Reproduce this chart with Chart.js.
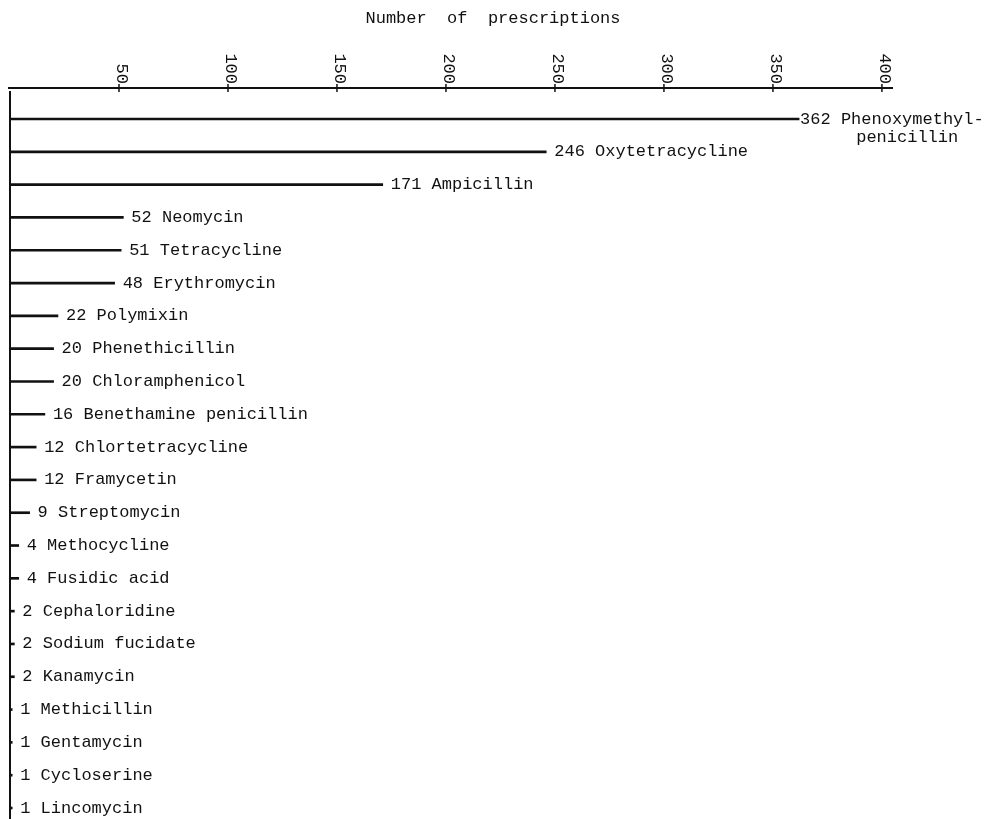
<!DOCTYPE html>
<html>
<head>
<meta charset="utf-8">
<script src="https://cdn.jsdelivr.net/npm/chart.js@4"></script>
<style>
  html, body { margin: 0; padding: 0; background: #fff; }
  canvas { display: block; }
</style>
</head>
<body>
<canvas id="grafic" width="986" height="819"></canvas>
<script>
const titol = 'Number  of  prescriptions';
const antibiotics = [
  'Phenoxymethyl-\npenicillin', 'Oxytetracycline', 'Ampicillin', 'Neomycin',
  'Tetracycline', 'Erythromycin', 'Polymixin', 'Phenethicillin',
  'Chloramphenicol', 'Benethamine penicillin', 'Chlortetracycline', 'Framycetin',
  'Streptomycin', 'Methocycline', 'Fusidic acid', 'Cephaloridine',
  'Sodium fucidate', 'Kanamycin', 'Methicillin', 'Gentamycin',
  'Cycloserine', 'Lincomycin'
];
const receptes = [362, 246, 171, 52, 51, 48, 22, 20, 20, 16, 12, 12, 9, 4, 4, 2, 2, 2, 1, 1, 1, 1];
const ticksX = [50, 100, 150, 200, 250, 300, 350, 400];

const FONT = '17px "Liberation Mono", "DejaVu Sans Mono", monospace';

// dibuixa eixos, ticks girats i etiquetes de cada línia
const eixosPlugin = {
  id: 'eixos',
  afterDraw(chart) {
    const ctx = chart.ctx;
    const area = chart.chartArea;
    const xs = chart.scales.x;
    const axisY = area.top - 31;
    ctx.save();
    ctx.fillStyle = '#111';
    ctx.strokeStyle = '#111';
    ctx.font = FONT;

    // títol
    ctx.textAlign = 'center';
    ctx.textBaseline = 'middle';
    ctx.fillText(titol, chart.width / 2, 18);

    // eix superior
    ctx.lineWidth = 2;
    ctx.beginPath();
    ctx.moveTo(area.left - 2, axisY);
    ctx.lineTo(area.right - 2, axisY);
    ctx.stroke();

    // eix vertical
    ctx.beginPath();
    ctx.moveTo(area.left, axisY + 3);
    ctx.lineTo(area.left, chart.height);
    ctx.stroke();

    // ticks
    ctx.lineWidth = 1.5;
    ticksX.forEach(v => {
      const px = xs.getPixelForValue(v);
      ctx.beginPath();
      ctx.moveTo(px, axisY - 4);
      ctx.lineTo(px, axisY + 4);
      ctx.stroke();
      ctx.save();
      ctx.translate(px + 3, axisY - 4);
      ctx.rotate(Math.PI / 2);
      ctx.textAlign = 'right';
      ctx.textBaseline = 'middle';
      ctx.fillText(String(v), 0, 0);
      ctx.restore();
    });

    // etiquetes de les línies
    const meta = chart.getDatasetMeta(0);
    ctx.textAlign = 'left';
    ctx.textBaseline = 'middle';
    meta.data.forEach((el, i) => {
      const parts = antibiotics[i].split('\n');
      const gap = receptes[i] > 300 ? 1 : 8;
      const x0 = el.x + gap;
      const prefix = receptes[i] + ' ';
      ctx.fillText(prefix + parts[0], x0, el.y);
      if (parts.length > 1) {
        const start = x0 + ctx.measureText(prefix).width;
        const w = ctx.measureText(parts[0].replace(/-$/, '')).width;
        ctx.textAlign = 'center';
        ctx.fillText(parts[1], start + w / 2, el.y + 18);
        ctx.textAlign = 'left';
      }
    });
    ctx.restore();
  }
};

const chart = new Chart(document.getElementById('grafic').getContext('2d'), {
  type: 'bar',
  data: {
    labels: antibiotics,
    datasets: [{
      data: receptes,
      backgroundColor: '#111',
      borderWidth: 0,
      barThickness: 2,
      clip: false
    }]
  },
  options: {
    indexAxis: 'y',
    responsive: false,
    animation: false,
    layout: { padding: { top: 119, left: 10, right: 91, bottom: 11 } },
    scales: {
      x: { type: 'linear', position: 'top', min: 0, max: 406, display: false },
      y: { type: 'category', offset: false, display: false }
    },
    plugins: {
      legend: { display: false },
      tooltip: { enabled: false }
    }
  },
  plugins: [eixosPlugin]
});
</script>
</body>
</html>
